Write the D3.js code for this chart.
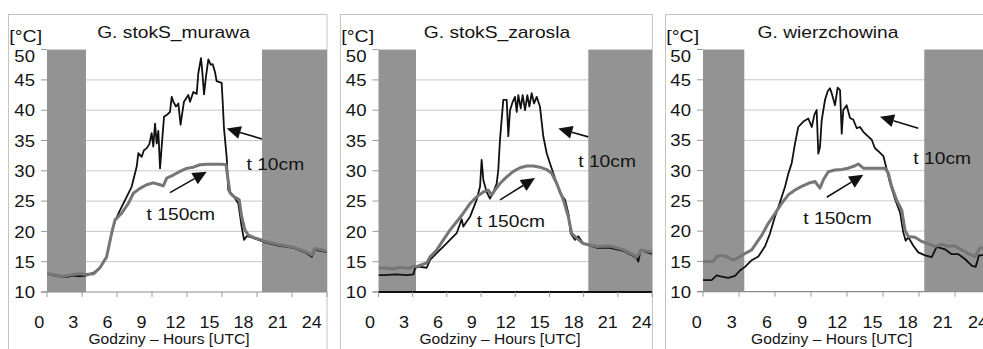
<!DOCTYPE html>
<html><head><meta charset="utf-8">
<script src="https://cdn.jsdelivr.net/npm/d3@7"></script>
<style>
body{margin:0;background:#fff}
svg{display:block}
text{font-family:"Liberation Sans",Arial,sans-serif;fill:#141414}
</style></head>
<body><svg id="c" width="983" height="349"></svg>
<script>
// ---------- data ----------
const titles = ["G. stokS_murawa", "G. stokS_zarosla", "G. wierzchowina"];
const seriesNames = ["t 10cm", "t 150cm"];
const yTicks = [10, 15, 20, 25, 30, 35, 40, 45, 50];
const xTickLabels = [0, 3, 6, 9, 12, 15, 18, 21, 24];
const xTickHours = [0, 3, 6, 9, 12, 15, 18, 21, 24];
const yUnit = "[°C]";
const xTitle = "Godziny – Hours [UTC]";

// night periods (hours)
const nightMurawa = [[0, 3.34], [18.43, 24]];
const nightZarosla = [[0, 3.29], [18.41, 24]];
const nightWierzch = [[0, 3.44], [18.44, 24]];

// [hour, temperature °C]
const murawaT10 = [[0,13.0],[0.5,12.8],[1.0,12.6],[1.7,12.5],[2.3,12.7],[2.8,12.6],[3.34,12.7],[4.0,13.2],[4.54,14.0],[5.11,15.8],[5.54,19.7],[5.83,21.7],[6.26,23.5],[6.83,25.7],[7.26,27.4],[7.69,30.7],[7.83,32.9],[8.11,32.3],[8.31,33.4],[8.54,33.7],[8.77,34.4],[8.97,36.2],[9.11,34.0],[9.26,37.8],[9.4,34.5],[9.54,36.6],[9.69,30.4],[9.83,34.0],[10.03,38.9],[10.26,39.2],[10.54,39.7],[10.69,42.2],[10.83,41.4],[11.06,40.6],[11.26,41.1],[11.45,37.6],[11.74,41.4],[12.11,42.5],[12.26,41.4],[12.54,43.0],[12.83,42.7],[12.97,46.1],[13.2,48.6],[13.31,46.4],[13.46,42.6],[13.63,45.6],[13.83,48.4],[14.03,47.5],[14.2,47.6],[14.4,46.3],[14.54,44.8],[14.97,44.5],[15.06,41.4],[15.17,37.0],[15.4,32.3],[15.54,26.8],[15.97,25.9],[16.4,24.6],[16.69,20.7],[16.89,18.6],[17.11,19.2],[17.54,19.0],[18.83,18.1],[19.97,17.6],[21.11,17.3],[22.26,16.4],[22.69,15.8],[22.97,17.0],[23.4,16.8],[24.0,16.6]];
const murawaT150 = [[0,13.0],[0.5,12.9],[1.2,12.6],[1.7,12.7],[2.3,12.9],[2.8,13.0],[3.34,12.9],[4.0,13.0],[4.54,14.0],[5.11,15.8],[5.54,19.7],[5.83,21.9],[6.4,23.0],[6.97,24.6],[7.4,26.3],[7.97,27.1],[8.54,27.7],[9.11,28.0],[9.69,27.7],[9.97,27.5],[10.26,28.8],[10.83,29.3],[11.4,29.9],[11.97,30.4],[12.54,30.6],[13.11,31.0],[13.69,31.1],[14.26,31.1],[14.97,31.1],[15.34,31.0],[15.69,26.3],[15.97,25.8],[16.48,25.2],[16.69,22.4],[16.97,20.2],[17.26,19.4],[17.69,19.0],[18.83,18.3],[19.97,17.8],[21.11,17.4],[22.26,16.6],[22.69,16.1],[22.97,17.2],[23.4,17.0],[24.0,16.7]];

const zaroslaT10 = [[0,12.8],[0.5,12.8],[1.5,12.9],[2.5,12.8],[3.06,12.9],[3.2,13.9],[3.5,14.2],[4.23,14.0],[4.52,15.3],[5.1,16.4],[5.69,17.5],[6.27,18.6],[6.86,19.7],[7.3,22.0],[7.44,20.8],[8.03,22.4],[8.61,25.2],[8.91,27.4],[9.05,31.8],[9.2,28.5],[9.49,26.5],[9.78,25.4],[10.08,26.5],[10.37,27.9],[10.51,30.1],[10.66,35.1],[10.95,41.7],[11.25,41.7],[11.39,35.7],[11.54,40.0],[11.78,41.4],[11.98,42.2],[12.13,39.7],[12.27,42.5],[12.48,40.3],[12.65,42.5],[12.86,40.0],[13.06,42.5],[13.24,40.6],[13.44,42.8],[13.65,41.1],[13.88,42.2],[14.17,40.6],[14.46,35.7],[14.76,32.9],[15.05,31.2],[15.34,29.6],[15.64,27.9],[15.93,26.3],[16.37,25.2],[16.66,23.0],[16.86,19.7],[17.24,18.6],[17.53,19.2],[17.97,18.0],[19.15,17.3],[20.31,17.3],[21.48,16.8],[22.66,15.6],[22.8,15.0],[23.0,16.9],[24.0,16.3]];
const zaroslaT150 = [[0,13.9],[0.5,14.0],[1.2,13.8],[2.0,14.1],[2.6,13.9],[3.06,14.2],[3.35,14.2],[3.79,14.5],[4.23,14.8],[4.52,15.8],[5.1,16.9],[5.69,18.6],[6.27,20.2],[6.86,21.6],[7.44,23.0],[8.03,24.6],[8.61,25.7],[9.2,26.5],[9.64,26.8],[9.93,26.0],[10.22,26.8],[10.66,27.9],[11.25,29.0],[11.83,29.9],[12.42,30.5],[13.0,30.8],[13.59,30.8],[14.17,30.6],[14.76,30.2],[15.2,29.6],[15.64,27.9],[16.22,25.2],[16.66,22.4],[16.95,19.7],[17.39,18.9],[17.97,18.0],[19.15,17.5],[20.31,17.6],[21.48,17.0],[22.66,15.8],[23.1,16.9],[24.0,16.6]];

const wierzchT10 = [[0,11.9],[0.72,11.9],[1.14,12.7],[1.56,12.5],[2.11,12.3],[2.67,12.6],[3.08,13.5],[3.5,14.1],[4.06,15.2],[4.61,15.8],[5.17,17.5],[5.58,19.6],[6.0,22.4],[6.42,24.8],[6.83,27.3],[7.11,29.5],[7.39,31.2],[7.67,34.5],[7.94,37.2],[8.36,38.1],[8.78,38.6],[9.06,37.2],[9.28,39.2],[9.47,40.0],[9.61,32.8],[9.75,33.9],[9.89,38.3],[10.17,41.7],[10.39,43.1],[10.58,43.6],[10.72,42.8],[11.0,40.8],[11.22,43.7],[11.42,43.3],[11.56,36.1],[11.69,40.0],[11.97,40.8],[12.25,38.7],[12.53,38.4],[12.81,37.0],[13.08,37.2],[13.36,36.4],[13.78,35.6],[14.06,35.1],[14.33,33.7],[14.61,33.2],[15.03,32.4],[15.31,30.2],[15.58,28.0],[16.0,25.3],[16.42,23.1],[16.69,19.8],[16.89,18.4],[17.11,19.0],[17.53,17.6],[17.94,16.5],[18.5,16.0],[19.06,15.7],[19.47,17.4],[20.17,17.0],[20.72,16.2],[21.28,16.2],[21.83,15.4],[22.39,14.3],[22.72,14.1],[23.0,16.0],[24.0,16.1]];
const wierzchT150 = [[0,15.0],[0.86,15.0],[1.14,15.8],[1.56,16.0],[1.97,15.8],[2.53,15.2],[3.08,15.8],[3.5,16.3],[4.06,16.9],[4.33,17.7],[4.89,19.3],[5.44,21.3],[6.0,22.9],[6.56,24.6],[7.11,26.0],[7.67,26.8],[8.22,27.4],[8.78,27.9],[9.33,28.2],[9.75,27.1],[10.03,28.5],[10.44,29.8],[11.0,30.1],[11.56,30.2],[12.11,30.4],[12.67,30.8],[12.94,31.1],[13.36,30.4],[13.78,30.4],[14.33,30.4],[15.17,30.4],[15.44,29.6],[15.72,27.4],[16.14,25.1],[16.56,23.5],[16.83,20.2],[17.11,19.1],[17.67,19.0],[18.22,18.3],[19.33,17.5],[19.89,17.8],[20.44,17.5],[21.0,17.6],[21.56,16.9],[22.11,16.3],[22.67,15.8],[23.08,17.2],[24.0,17.2]];

// annotation anchors in data units: [tailHour, tailT, tipHour, tipT, textHour, textT]
const annoMurawa = [[18.43,35.25,15.4,37.0,17.1,30.1],[10.54,26.4,13.69,29.85,8.54,21.9]];
const annoZarosla = [[18.41,35.6,15.78,37.0,17.53,30.7],[10.66,25.2,13.73,28.8,8.62,20.8]];
const annoWierzch = [[17.94,37.0,14.75,38.9,17.53,31.1],[10.31,25.6,13.36,29.3,8.36,21.2]];

// ---------- layout ----------
const panels = [
  {title:titles[0], t10:murawaT10, t150:murawaT150, night:nightMurawa, anno:annoMurawa,
   fx:8.5, fr:327, pl:47, pr:327, yb:292, yt:49.6, lab0:39.3, lab24:311.7, titleX:173.5, xTitleX:169, darkBase:false},
  {title:titles[1], t10:zaroslaT10, t150:zaroslaT150, night:nightZarosla, anno:annoZarosla,
   fx:340.5, fr:652.5, pl:378.5, pr:652, yb:292, yt:49.6, lab0:370, lab24:641.7, titleX:497, xTitleX:500, darkBase:true},
  {title:titles[2], t10:wierzchT10, t150:wierzchT150, night:nightWierzch, anno:annoWierzch,
   fx:665.5, fr:990, pl:703, pr:991, yb:291.7, yt:49.5, lab0:696.7, lab24:978, titleX:828, xTitleX:831.7, darkBase:false}
];

// widen glyphs horizontally to match the reference's wide type
function stretch(sel, f) {
  sel.each(function () {
    const w = this.getComputedTextLength();
    this.setAttribute("textLength", (w * f).toFixed(2));
    this.setAttribute("lengthAdjust", "spacingAndGlyphs");
  });
}

const svg = d3.select("#c");
const defs = svg.append("defs");

panels.forEach((p, i) => {
  const g = svg.append("g");
  const x = d3.scaleLinear().domain([0, 24]).range([p.pl, p.pr]);
  const y = d3.scaleLinear().domain([10, 50]).range([p.yb, p.yt]);
  const xl = d3.scaleLinear().domain([0, 24]).range([p.lab0, p.lab24]);

  g.append("rect").attr("x", p.fx).attr("y", 14.5).attr("width", p.fr - p.fx).attr("height", 360)
    .attr("fill", "#fff").attr("stroke", "#c4c4c4").attr("stroke-width", 1);

  defs.append("clipPath").attr("id", "clip" + i).append("rect")
    .attr("x", p.pl).attr("y", p.yt - 2).attr("width", Math.min(p.pr, 983) - p.pl).attr("height", p.yb - p.yt + 4);

  g.append("g").selectAll("line").data(yTicks.filter(v => v > 10 && v < 50)).join("line")
    .attr("x1", p.pl).attr("x2", p.pr).attr("y1", d => y(d)).attr("y2", d => y(d))
    .attr("stroke", "#c8c8c8").attr("stroke-width", 1);

  g.append("g").selectAll("rect").data(p.night).join("rect")
    .attr("x", d => x(d[0])).attr("width", d => x(d[1]) - x(d[0]))
    .attr("y", y(50)).attr("height", y(10) - y(50)).attr("fill", "#939393");

  g.append("g").selectAll("line").data(yTicks).join("line")
    .attr("x1", p.pl - 6).attr("x2", p.pl).attr("y1", d => y(d)).attr("y2", d => y(d))
    .attr("stroke", "#9a9a9a");
  g.append("line").attr("x1", p.pl - 6).attr("x2", p.pr).attr("y1", y(10)).attr("y2", y(10))
    .attr("stroke", "#8a8a8a").attr("stroke-width", 1.2);
  if (p.darkBase) {
    g.append("line").attr("x1", p.pl).attr("x2", p.pr).attr("y1", y(10)).attr("y2", y(10))
      .attr("stroke", "#111").attr("stroke-width", 2.2);
  }
  g.append("g").selectAll("line").data(xTickHours).join("line")
    .attr("x1", d => x(d)).attr("x2", d => x(d)).attr("y1", y(10)).attr("y2", y(10) + 5)
    .attr("stroke", "#9a9a9a");

  stretch(g.append("g").selectAll("text").data(yTicks).join("text")
    .attr("x", p.pl - 12).attr("y", d => Math.max(y(d), p.yt + 6)).attr("dy", "0.36em")
    .attr("text-anchor", "end").attr("font-size", 17).text(d => d), 1.09);
  stretch(g.append("g").selectAll("text").data(xTickLabels).join("text")
    .attr("x", d => xl(d)).attr("y", 328.3).attr("text-anchor", "middle")
    .attr("font-size", 16.5).text(d => d), 1.09);

  stretch(g.append("text").attr("x", p.titleX).attr("y", 37.5).attr("text-anchor", "middle")
    .attr("font-size", 17).text(p.title), 1.13);
  stretch(g.append("text").attr("x", p.fx + 0.8).attr("y", 41.5).attr("font-size", 17).text(yUnit), 1.15);
  stretch(g.append("text").attr("x", p.xTitleX).attr("y", 343.5).attr("text-anchor", "middle")
    .attr("font-size", 14.5).text(xTitle), 1.075);

  const line = d3.line().x(d => x(d[0])).y(d => y(d[1]));
  const lg = g.append("g").attr("clip-path", `url(#clip${i})`);
  lg.append("path").datum(p.t10).attr("d", line).attr("fill", "none")
    .attr("stroke", "#111").attr("stroke-width", 1.8).attr("stroke-linejoin", "round");
  lg.append("path").datum(p.t150).attr("d", line).attr("fill", "none")
    .attr("stroke", "#767676").attr("stroke-width", 3).attr("stroke-linejoin", "round");

  p.anno.forEach((a, k) => {
    const x0 = x(a[0]), y0 = y(a[1]), x1 = x(a[2]), y1 = y(a[3]);
    const ang = Math.atan2(y1 - y0, x1 - x0);
    const L = 14, Wd = 6.5;
    const bx = x1 - L * Math.cos(ang), by = y1 - L * Math.sin(ang);
    g.append("line").attr("x1", x0).attr("y1", y0).attr("x2", bx).attr("y2", by)
      .attr("stroke", "#111").attr("stroke-width", 1.6);
    const pts = [[x1, y1],
      [bx + Wd * Math.sin(ang), by - Wd * Math.cos(ang)],
      [bx - Wd * Math.sin(ang), by + Wd * Math.cos(ang)]];
    g.append("polygon").attr("points", pts.map(q => q.join(",")).join(" ")).attr("fill", "#111");
    stretch(g.append("text").attr("x", x(a[4])).attr("y", y(a[5])).attr("font-size", 17).text(seriesNames[k]), 1.13);
  });
});
</script></body></html>
